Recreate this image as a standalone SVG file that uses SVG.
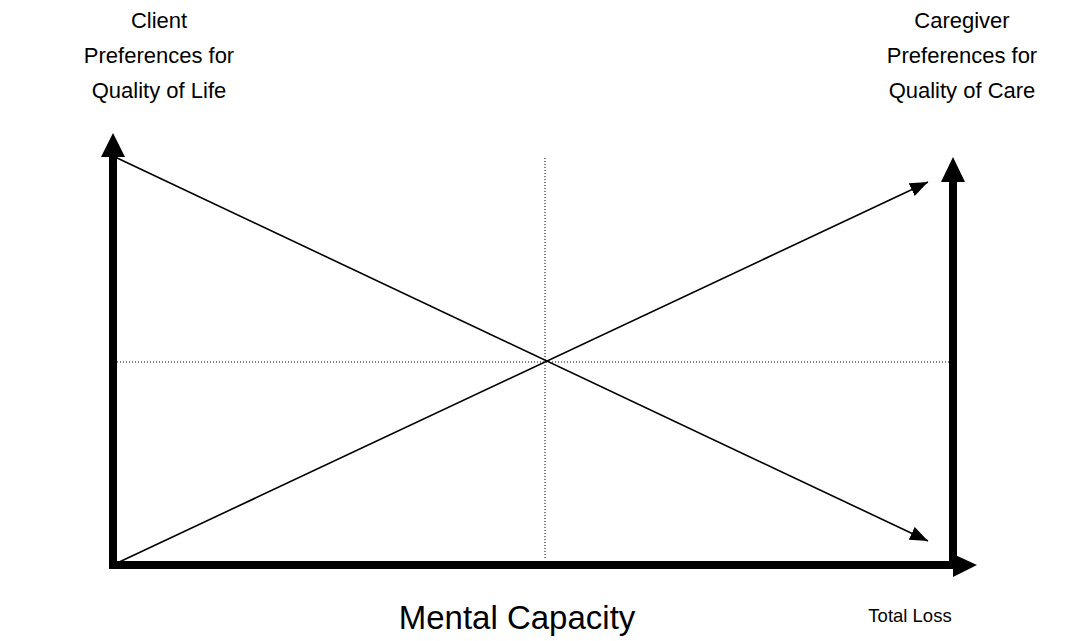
<svg xmlns="http://www.w3.org/2000/svg" width="1065" height="641" viewBox="0 0 1065 641">
  <style>
    .lbl { font-family: "Liberation Sans", Arial, sans-serif; fill: #000; text-anchor: middle; }
    .head { font-size: 22px; }
    .axis { fill: #000; }
    .trend { stroke: #000; stroke-width: 1.6; fill: none; marker-end: url(#tip); }
    .guide { stroke: #000; stroke-width: 1; stroke-dasharray: 1 2; fill: none; }
  </style>
  <defs>
    <marker id="tip" markerWidth="20" markerHeight="16" refX="18" refY="7" orient="auto" markerUnits="userSpaceOnUse">
      <path d="M0,0 L18,7 L0,14 Z" fill="#000"/>
    </marker>
  </defs>

  <!-- column headings -->
  <g id="client-label">
    <text class="lbl head" x="159" y="28">Client</text>
    <text class="lbl head" x="159" y="63">Preferences for</text>
    <text class="lbl head" x="159" y="98">Quality of Life</text>
  </g>
  <g id="caregiver-label">
    <text class="lbl head" x="962" y="28">Caregiver</text>
    <text class="lbl head" x="962" y="63">Preferences for</text>
    <text class="lbl head" x="962" y="98">Quality of Care</text>
  </g>

  <!-- axes -->
  <g id="left-axis">
    <rect class="axis" x="109" y="155" width="8" height="414"/>
    <polygon class="axis" points="101,157 113,133 125,157"/>
  </g>
  <g id="right-axis">
    <rect class="axis" x="949" y="180" width="8" height="389"/>
    <polygon class="axis" points="941,182 953,157 965,182"/>
  </g>
  <g id="bottom-axis">
    <rect class="axis" x="109" y="561" width="846" height="8"/>
    <polygon class="axis" points="953,554 977,565 953,577"/>
  </g>

  <!-- connectors -->
  <g id="connectors">
    <line class="guide" x1="545" y1="158" x2="545" y2="560"/>
    <line class="guide" x1="117" y1="362" x2="949" y2="362"/>
    <line class="trend" x1="115" y1="157" x2="928" y2="541"/>
    <line class="trend" x1="115" y1="564" x2="928" y2="182"/>
  </g>

  <g id="x-axis-label">
    <text class="lbl" x="517" y="629" font-size="33">Mental Capacity</text>
  </g>
  <g id="end-label">
    <text class="lbl" x="910" y="622" font-size="18.5">Total Loss</text>
  </g>
</svg>
